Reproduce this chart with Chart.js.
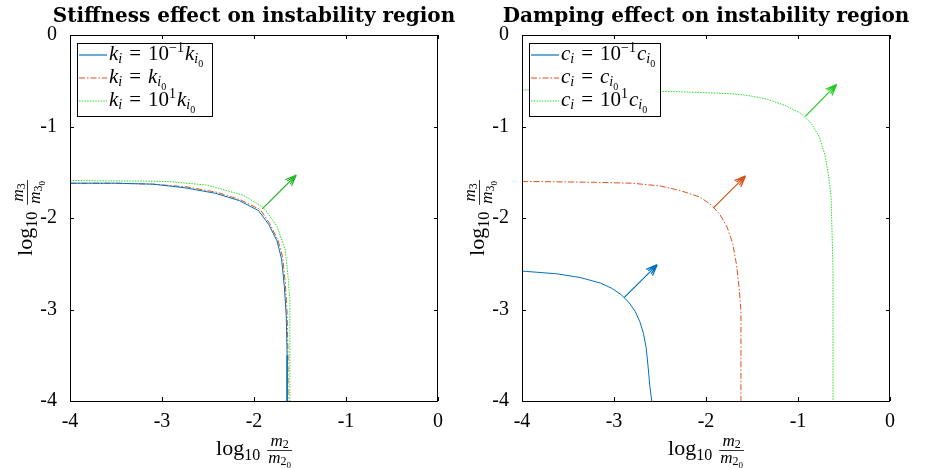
<!DOCTYPE html>
<html>
<head>
<meta charset="utf-8">
<script src="https://cdn.jsdelivr.net/npm/chart.js@4.4.0/dist/chart.umd.min.js"></script>
<style>
  body { margin: 0; background: #fff; }
  #wrap { position: relative; width: 927px; height: 468px; }
  .panel { position: absolute; top: 0; height: 468px; }
  #left { left: 0; width: 463px; }
  #right { left: 463px; width: 464px; }
</style>
</head>
<body>
<div id="wrap">
  <div class="panel" id="left"><canvas id="stiff"></canvas></div>
  <div class="panel" id="right"><canvas id="damp"></canvas></div>
</div>
<script>
// shared axis ticks
const xTicks = [-4, -3, -2, -1, 0];
const yTicks = [-4, -3, -2, -1, 0];

// stiffness panel: boundary of the instability region (log10 m2/m20, log10 m3/m30)
const kLowX  = [-4, -3.5, -3.1, -2.75, -2.42, -2.16, -1.95, -1.84, -1.75, -1.70, -1.67, -1.65, -1.64, -1.64];
const kLowY  = [-1.62, -1.62, -1.63, -1.67, -1.73, -1.81, -1.92, -2.07, -2.25, -2.45, -2.75, -3.06, -3.5, -4];
const kMidX  = [-4, -3.5, -3.1, -2.73, -2.40, -2.15, -1.93, -1.83, -1.74, -1.69, -1.66, -1.64, -1.63, -1.63];
const kMidY  = [-1.62, -1.62, -1.63, -1.66, -1.72, -1.80, -1.91, -2.06, -2.24, -2.42, -2.71, -3.04, -3.5, -4];
const kHighX = [-4, -2.95, -2.51, -2.12, -1.90, -1.75, -1.66, -1.63, -1.61, -1.61];
const kHighY = [-1.59, -1.60, -1.64, -1.75, -1.88, -2.09, -2.35, -2.64, -2.90, -4];
// direction arrow [x0, y0, x1, y1]
const kArrow = [-1.91, -1.90, -1.54, -1.53];

// damping panel
const cLowX  = [-4, -3.62, -3.37, -3.15, -3.02, -2.92, -2.84, -2.77, -2.72, -2.68, -2.65, -2.63, -2.61, -2.59];
const cLowY  = [-2.58, -2.61, -2.65, -2.71, -2.77, -2.84, -2.92, -3.02, -3.13, -3.26, -3.42, -3.62, -3.84, -4];
const cMidX  = [-4, -3.2, -2.8, -2.5, -2.28, -2.07, -1.95, -1.85, -1.77, -1.71, -1.67, -1.64, -1.62, -1.62];
const cMidY  = [-1.60, -1.61, -1.62, -1.65, -1.70, -1.77, -1.85, -1.96, -2.10, -2.28, -2.50, -2.76, -3.02, -4];
const cHighX = [-4, -2.28, -1.76, -1.55, -1.34, -1.14, -0.98, -0.86, -0.77, -0.71, -0.67, -0.64, -0.63, -0.62, -0.62];
const cHighY = [-0.60, -0.62, -0.64, -0.66, -0.70, -0.77, -0.85, -0.96, -1.11, -1.30, -1.52, -1.78, -2.16, -2.53, -4];
const cLowArrow  = [-2.89, -2.87, -2.53, -2.51];
const cMidArrow  = [-1.92, -1.89, -1.57, -1.54];
const cHighArrow = [-0.92, -0.89, -0.58, -0.54];

const BLUE = '#0072BD', RED = '#D95319', GREEN = '#22e022';
const SERIF = '"Liberation Serif", "DejaVu Serif", serif';

const pts = (xs, ys) => xs.map((x, i) => ({ x: x, y: ys[i] }));

// draw a run of text pieces (italic / sub / sup) on the canvas
function rich(ctx, x, y, segs, draw) {
  let cx = x;
  segs.forEach(s => {
    if (s.gap) { cx += s.gap; return; }
    ctx.font = (s.i ? 'italic ' : '') + s.size + 'px ' + SERIF;
    if (draw) ctx.fillText(s.t, cx, y + (s.dy || 0));
    cx += ctx.measureText(s.t).width;
  });
  return cx - x;
}

function legendRow(sym, coef) {
  const row = [{ t: sym, i: true, size: 21 }, { t: 'i', i: true, size: 14, dy: 3 }, { gap: 7 }, { t: '=', size: 21 }, { gap: 7 }];
  if (coef !== null) {
    row.push({ t: '10', size: 21 }, { t: coef, size: 14, dy: -8 }, { gap: 1 });
  }
  row.push({ t: sym, i: true, size: 21 }, { t: 'i', i: true, size: 14, dy: 3 }, { t: '0', size: 10, dy: 7 });
  return row;
}

function logLabel(idx) {
  return {
    lead: [{ t: 'log', size: 22 }, { t: '10', size: 16, dy: 5 }],
    num: [{ t: 'm', i: true, size: 17 }, { t: idx, size: 12, dy: 2 }],
    den: [{ t: 'm', i: true, size: 17 }, { t: idx, size: 12, dy: 2 }, { t: '0', size: 9, dy: 5 }]
  };
}

function drawLogLabel(ctx, cx, base, lab) {
  const wLead = rich(ctx, 0, 0, lab.lead, false);
  const wNum = rich(ctx, 0, 0, lab.num, false);
  const wDen = rich(ctx, 0, 0, lab.den, false);
  const wFrac = Math.max(wNum, wDen) + 2;
  const total = wLead + 7 + wFrac;
  const x0 = cx - total / 2;
  rich(ctx, x0, base, lab.lead, true);
  const fx = x0 + wLead + 7;
  ctx.fillRect(fx, base - 5, wFrac, 0.8);
  rich(ctx, fx + (wFrac - wNum) / 2, base - 9, lab.num, true);
  rich(ctx, fx + (wFrac - wDen) / 2, base + 8, lab.den, true);
}

function drawArrow(ctx, ch, a, color) {
  const xs = ch.scales.x, ys = ch.scales.y;
  const x0 = xs.getPixelForValue(a[0]), y0 = ys.getPixelForValue(a[1]);
  const x1 = xs.getPixelForValue(a[2]), y1 = ys.getPixelForValue(a[3]);
  const ang = Math.atan2(y1 - y0, x1 - x0);
  ctx.save();
  ctx.strokeStyle = color;
  ctx.lineWidth = 1.2;
  ctx.beginPath();
  ctx.moveTo(x0, y0); ctx.lineTo(x1, y1);
  [0.38, -0.38].forEach(d => {
    ctx.moveTo(x1, y1);
    ctx.lineTo(x1 - 12 * Math.cos(ang + d), y1 - 12 * Math.sin(ang + d));
  });
  [0.2, -0.2].forEach(d => {
    ctx.moveTo(x1, y1);
    ctx.lineTo(x1 - 11 * Math.cos(ang + d), y1 - 11 * Math.sin(ang + d));
  });
  ctx.stroke();
  ctx.restore();
}

const decor = {
  id: 'decor',
  afterDatasetsDraw(ch, args, o) {
    const ctx = ch.ctx, a = ch.chartArea;
    const xs = ch.scales.x, ys = ch.scales.y;
    ctx.save();
    // box and inward ticks
    ctx.strokeStyle = '#000';
    ctx.lineWidth = 1;
    ctx.strokeRect(a.left + 0.5, a.top + 0.5, a.right - a.left - 1, a.bottom - a.top);
    ctx.beginPath();
    xTicks.forEach(v => {
      const p = Math.round(xs.getPixelForValue(v)) + 0.5;
      ctx.moveTo(p, a.bottom); ctx.lineTo(p, a.bottom - 4);
      ctx.moveTo(p, a.top); ctx.lineTo(p, a.top + 4);
    });
    yTicks.forEach(v => {
      const p = Math.round(ys.getPixelForValue(v)) + 0.5;
      ctx.moveTo(a.left, p); ctx.lineTo(a.left + 4, p);
      ctx.moveTo(a.right, p); ctx.lineTo(a.right - 4, p);
    });
    ctx.stroke();

    o.arrows.forEach(ar => drawArrow(ctx, ch, ar.v, ar.color));

    // legend
    ctx.fillStyle = '#fff';
    const lx = a.left + 7, ly = a.top + 8;
    ctx.fillRect(lx, ly, o.legendW, 73);
    ctx.strokeStyle = '#000';
    ctx.strokeRect(lx + 0.5, ly + 0.5, o.legendW, 73);
    ch.data.datasets.forEach((ds, i) => {
      const yy = ly + 12 + i * 23;
      ctx.strokeStyle = ds.borderColor;
      ctx.lineWidth = 1.2;
      ctx.setLineDash(ds.borderDash || []);
      ctx.beginPath();
      ctx.moveTo(lx + 2, yy); ctx.lineTo(lx + 30, yy);
      ctx.stroke();
      ctx.setLineDash([]);
      ctx.fillStyle = '#000';
      ctx.textBaseline = 'alphabetic';
      rich(ctx, lx + 32, yy + 5, o.legend[i], true);
    });

    // title
    ctx.fillStyle = '#000';
    ctx.font = 'bold 20px "DejaVu Serif", serif';
    ctx.textAlign = 'center';
    ctx.fillText(o.title, (a.left + a.right) / 2, 22);
    ctx.textAlign = 'left';

    // axis labels
    drawLogLabel(ctx, (a.left + a.right) / 2, 455, logLabel('2'));
    ctx.translate(a.left - 38, (a.top + a.bottom) / 2);
    ctx.rotate(-Math.PI / 2);
    drawLogLabel(ctx, 0, 0, logLabel('3'));
    ctx.restore();
  }
};

function makeChart(id, yWidth, rightPad, series, opts) {
  return new Chart(document.getElementById(id), {
    type: 'scatter',
    data: {
      datasets: series.map(s => ({
        data: s.data,
        showLine: true,
        borderColor: s.color,
        borderWidth: 1,
        borderDash: s.dash,
        pointRadius: 0,
        fill: false
      }))
    },
    options: {
      responsive: true,
      maintainAspectRatio: false,
      animation: false,
      layout: { padding: { top: 35, right: rightPad, bottom: 0, left: 0 } },
      plugins: { legend: { display: false }, tooltip: { enabled: false }, decor: opts },
      scales: {
        x: {
          type: 'linear', min: -4, max: 0,
          afterBuildTicks: s => { s.ticks = xTicks.map(v => ({ value: v })); },
          afterFit: s => { s.height = 67; },
          grid: { display: false },
          border: { display: false },
          ticks: { color: '#000', padding: 1, font: { family: SERIF, size: 20 }, callback: v => String(v) }
        },
        y: {
          type: 'linear', min: -4, max: 0,
          afterBuildTicks: s => { s.ticks = yTicks.map(v => ({ value: v })); },
          afterFit: s => { s.width = yWidth; },
          grid: { display: false },
          border: { display: false },
          ticks: { color: '#000', padding: 5, font: { family: SERIF, size: 20 }, callback: v => String(v) }
        }
      }
    },
    plugins: [decor]
  });
}

makeChart('stiff', 70, 25, [
  { data: pts(kLowX, kLowY), color: BLUE, dash: [] },
  { data: pts(kMidX, kMidY), color: RED, dash: [6, 2, 1.5, 2] },
  { data: pts(kHighX, kHighY), color: GREEN, dash: [1.5, 1.2] }
], {
  title: 'Stiffness effect on instability region',
  legendW: 135,
  legend: [legendRow('k', '\u22121'), legendRow('k', null), legendRow('k', '1')],
  arrows: [{ v: kArrow, color: '#2fb52f' }]
});

makeChart('damp', 59, 37, [
  { data: pts(cLowX, cLowY), color: BLUE, dash: [] },
  { data: pts(cMidX, cMidY), color: RED, dash: [6, 2, 1.5, 2] },
  { data: pts(cHighX, cHighY), color: GREEN, dash: [1.5, 1.2] }
], {
  title: 'Damping effect on instability region',
  legendW: 131,
  legend: [legendRow('c', '\u22121'), legendRow('c', null), legendRow('c', '1')],
  arrows: [
    { v: cLowArrow, color: BLUE },
    { v: cMidArrow, color: RED },
    { v: cHighArrow, color: '#22cc22' }
  ]
});
</script>
</body>
</html>
